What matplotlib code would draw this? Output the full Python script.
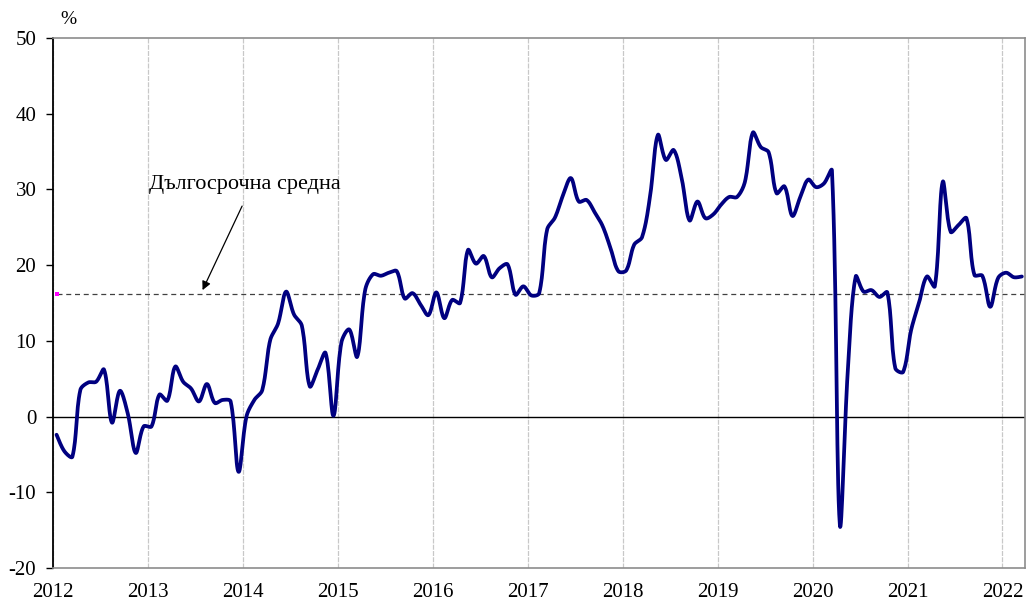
import numpy as np
import matplotlib
matplotlib.use("Agg")
import matplotlib.pyplot as plt

# Monthly values, Jan 2012 .. Mar 2022 (%)
values = [
    -2.4, -4.6, -5.3, 3.5, 4.5, 4.6, 6.2, -0.8, 3.4, 0.4, -4.8, -1.3,      # 2012
    -1.3, 2.9, 2.1, 6.6, 4.6, 3.7, 2.0, 4.3, 1.8, 2.2, 2.0, -7.3,         # 2013
    0.0, 2.2, 3.5, 10.1, 12.3, 16.5, 13.5, 12.0, 4.0, 6.2, 8.4, 0.1,      # 2014
    9.8, 11.5, 7.9, 16.7, 18.8, 18.6, 19.0, 19.2, 15.6, 16.3, 14.8, 13.4, # 2015
    16.4, 13.0, 15.4, 15.0, 22.0, 20.2, 21.2, 18.4, 19.6, 20.1, 16.1, 17.2, # 2016
    16.0, 16.3, 24.7, 26.3, 29.2, 31.5, 28.4, 28.6, 27.0, 25.2, 22.3, 19.2, # 2017
    19.3, 22.7, 23.7, 29.0, 37.2, 33.9, 35.2, 31.5, 25.9, 28.4, 26.2, 26.7, # 2018
    28.0, 29.0, 29.0, 31.0, 37.5, 35.6, 34.9, 29.5, 30.4, 26.5, 29.0, 31.3, # 2019
    30.3, 30.8, 32.5, -14.3, 6.0, 18.5, 16.5, 16.7, 15.8, 16.4, 6.4, 5.9,  # 2020
    11.4, 15.0, 18.5, 17.2, 31.0, 24.4, 25.3, 26.2, 18.7, 18.6, 14.5, 18.3, # 2021
    19.0, 18.4, 18.5,                                                      # 2022
]
long_term_avg = 16.2
years = list(range(2012, 2023))
y_ticks = [-20, -10, 0, 10, 20, 30, 40, 50]
avg_label = "Дългосрочна средна"
unit_label = "%"

plt.rcParams['font.family'] = ['Liberation Serif', 'DejaVu Serif']

vals = np.array(values, dtype=float)
n = len(vals)
xpos = np.arange(n) + 0.45  # mid-month positions, in months since Jan 2012

PX_PER_MONTH = 7.91
PX_PER_UNIT = 7.571

# Excel-like smoothed line: cubic Bezier through the points, handles
# weighted by neighbouring segment lengths measured on screen.
def excel_smooth(x, y, steps=16):
    P = np.column_stack([x * PX_PER_MONTH, y * PX_PER_UNIT])
    m = len(P)
    d = np.linalg.norm(np.diff(P, axis=0), axis=1)
    T = np.zeros_like(P)
    T[1:-1] = P[2:] - P[:-2]
    T[0] = P[1] - P[0]
    T[-1] = P[-1] - P[-2]
    out = []
    t = np.linspace(0, 1, steps, endpoint=False)[:, None]
    for i in range(m - 1):
        w1 = 0.5 if i == 0 else d[i] / (d[i - 1] + d[i])
        w2 = 0.5 if i + 1 == m - 1 else d[i] / (d[i] + d[i + 1])
        c1 = P[i] + T[i] * w1 / 3.0
        c2 = P[i + 1] - T[i + 1] * w2 / 3.0
        seg = ((1 - t) ** 3) * P[i] + 3 * ((1 - t) ** 2) * t * c1 + \
              3 * (1 - t) * t ** 2 * c2 + t ** 3 * P[i + 1]
        out.append(seg)
    out.append(P[-1:])
    out = np.vstack(out)
    return out[:, 0] / PX_PER_MONTH, out[:, 1] / PX_PER_UNIT

sx, sy = excel_smooth(xpos, vals)

fig = plt.figure(figsize=(10.29, 6.04), dpi=100)
ax = fig.add_axes([53 / 1029, (604 - 568) / 604, (1025 - 53) / 1029, 530 / 604])

ax.set_xlim(0, 122.85)
ax.set_ylim(-20, 50)

year_pos = [(y - 2012) * 12 for y in years]
ax.set_xticks(year_pos)
ax.set_xticklabels([str(y) for y in years], fontsize=15)
ax.set_yticks(y_ticks)
ax.set_yticklabels([str(v) for v in y_ticks], fontsize=15)
ax.tick_params(axis='x', length=0, pad=11)
ax.tick_params(axis='y', length=5, width=1, direction='out', pad=7)

ax.grid(axis='x', color='#c8c8c8', linestyle=(0, (4, 1)), linewidth=0.9)
ax.set_axisbelow(True)

for side in ('top', 'right', 'bottom'):
    ax.spines[side].set_color('#8c8c8c')
    ax.spines[side].set_linewidth(1.2)
ax.spines['left'].set_color('black')
ax.spines['left'].set_linewidth(1.3)

ax.axhline(0, color='black', linewidth=1.0, zorder=2)
ax.plot([xpos[0], 122.85], [long_term_avg, long_term_avg], color='#404040',
        linestyle=(0, (4, 3)), linewidth=0.9, zorder=2)
ax.plot([xpos[0]], [long_term_avg], marker='s', markersize=3.5, color='magenta',
        markeredgewidth=0, zorder=3)

ax.plot(sx, sy, color='#000080', linewidth=2.7, solid_joinstyle='round',
        solid_capstyle='round', zorder=4)

ax.text(24.2, 30.7, avg_label, fontsize=16, ha='center', va='center')
ax.annotate('', xy=(18.9, long_term_avg + 0.5), xytext=(23.9, 27.8),
            arrowprops=dict(arrowstyle='-|>', color='black', lw=0.9,
                            mutation_scale=13, shrinkA=0, shrinkB=0))

fig.text(68 / 1029, 1 - 20 / 604, unit_label, fontsize=14, ha='center', va='center')

fig.savefig('out.png', dpi=100)
